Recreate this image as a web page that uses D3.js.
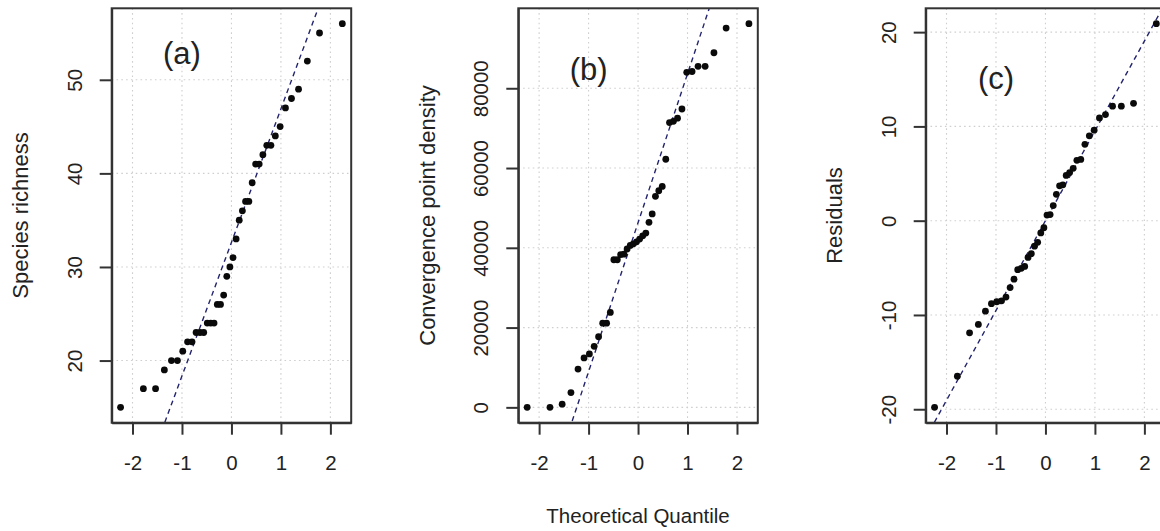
<!DOCTYPE html>
<html><head><meta charset="utf-8">
<script src="https://cdn.jsdelivr.net/npm/d3@7"></script>
<style>
body{margin:0;background:#fff}
svg{display:block}
text{font-family:"Liberation Sans",Arial,sans-serif;fill:#222}
</style>
</head><body>
<svg id="chart" width="1160" height="531"></svg>
<script>
// ---- data (sorted sample values) ----
const speciesRichness = [15,17,17,19,20,20,21,22,22,23,23,23,24,24,24,26,26,27,29,30,31,33,35,36,37,37,39,41,41,42,43,43,44,45,47,48,49,52,55,56];
const convergenceDensity = [0,0,800,3700,9600,12400,13400,15300,17700,21100,21100,23800,37000,37000,38300,38400,39700,40600,41000,41500,42200,43000,43700,46400,48500,52900,54300,55400,62200,71400,71700,72500,74800,84000,84200,85500,85500,88900,95100,96200];
const residuals = [-19.8,-16.5,-11.9,-11.0,-9.6,-8.8,-8.6,-8.5,-8.1,-7.1,-6.2,-5.2,-5.05,-4.85,-3.9,-3.5,-2.7,-2.3,-1.3,-0.75,0.6,0.65,1.6,2.8,3.7,3.8,4.8,5.1,5.55,6.4,6.5,8.1,9.0,9.6,10.9,11.25,12.15,12.15,12.45,20.9];
const xTicks = [-2,-1,0,1,2];
const yTicksA = [20,30,40,50];
const yTicksB = [0,20000,40000,60000,80000];
const yTicksC = [-20,-10,0,10,20];
const panelLabels = ["(a)","(b)","(c)"];
const yTitles = ["Species richness","Convergence point density","Residuals"];
const xTitle = "Theoretical Quantile";
const labelAnchorX = [-1,-1,-1];
const labelAnchorY = [52.6,84000,14.8];

// ---- helpers ----
function qnorm(p){
  const a=[-3.969683028665376e+01,2.209460984245205e+02,-2.759285104469687e+02,1.383577518672690e+02,-3.066479806614716e+01,2.506628277459239e+00];
  const b=[-5.447609879822406e+01,1.615858368580409e+02,-1.556989798598866e+02,6.680131188771972e+01,-1.328068155288572e+01];
  const c=[-7.784894002430293e-03,-3.223964580411365e-01,-2.400758277161838e+00,-2.549732539343734e+00,4.374664141464968e+00,2.938163982698783e+00];
  const d=[7.784695709041462e-03,3.224671290700398e-01,2.445134137142996e+00,3.754408661907416e+00];
  const pl=0.02425, ph=1-pl; let q,r;
  if(p<pl){q=Math.sqrt(-2*Math.log(p));return (((((c[0]*q+c[1])*q+c[2])*q+c[3])*q+c[4])*q+c[5])/((((d[0]*q+d[1])*q+d[2])*q+d[3])*q+1);}
  if(p<=ph){q=p-0.5;r=q*q;return (((((a[0]*r+a[1])*r+a[2])*r+a[3])*r+a[4])*r+a[5])*q/(((((b[0]*r+b[1])*r+b[2])*r+b[3])*r+b[4])*r+1);}
  q=Math.sqrt(-2*Math.log(1-p));return -(((((c[0]*q+c[1])*q+c[2])*q+c[3])*q+c[4])*q+c[5])/((((d[0]*q+d[1])*q+d[2])*q+d[3])*q+1);
}
function pad4(ext){const r=ext[1]-ext[0];return [ext[0]-0.04*r, ext[1]+0.04*r];}

const svg = d3.select("#chart");
const FS = 20.5;
const panelLefts = [111.7, 518.3, 925.7];
const panelW = 239.5, plotTop = 8.3, plotBottom = 422.7;
const datasets = [speciesRichness, convergenceDensity, residuals];
const yTickSets = [yTicksA, yTicksB, yTicksC];

datasets.forEach((vals, k) => {
  const n = vals.length;
  const sorted = vals.slice().sort((a,b)=>a-b);
  const theo = sorted.map((v,i)=>qnorm((i+1-0.5)/n));
  const pts = sorted.map((v,i)=>({q:theo[i], v}));
  const left = panelLefts[k], right = left + panelW;
  const x = d3.scaleLinear().domain(pad4(d3.extent(theo))).range([left, right]);
  const y = d3.scaleLinear().domain(pad4(d3.extent(sorted))).range([plotBottom, plotTop]);
  const g = svg.append("g");
  const clipId = "clip"+k;
  svg.append("clipPath").attr("id", clipId).append("rect")
    .attr("x", left).attr("y", plotTop).attr("width", panelW).attr("height", plotBottom-plotTop);

  // grid
  const grid = g.append("g").attr("stroke","#cfcfcf").attr("stroke-width",1.1).attr("stroke-dasharray","1.6,3.2");
  grid.selectAll(".gx").data(xTicks).join("line").attr("class","gx")
    .attr("x1", d=>x(d)).attr("x2", d=>x(d)).attr("y1", plotTop).attr("y2", plotBottom);
  grid.selectAll(".gy").data(yTickSets[k]).join("line").attr("class","gy")
    .attr("x1", left).attr("x2", right).attr("y1", d=>y(d)).attr("y2", d=>y(d));

  // qq line through quartiles
  const q1 = d3.quantileSorted(sorted, 0.25), q3 = d3.quantileSorted(sorted, 0.75);
  const z1 = qnorm(0.25), z3 = qnorm(0.75);
  const slope = (q3-q1)/(z3-z1), inter = q1 - slope*z1;
  const xd = x.domain();
  g.append("line").attr("clip-path", `url(#${clipId})`)
    .attr("x1", x(xd[0])).attr("y1", y(inter + slope*xd[0]))
    .attr("x2", x(xd[1])).attr("y2", y(inter + slope*xd[1]))
    .attr("stroke","#24246e").attr("stroke-width",1.4).attr("stroke-dasharray","5,4");

  // points
  g.append("g").selectAll("circle").data(pts).join("circle")
    .attr("cx", d=>x(d.q)).attr("cy", d=>y(d.v)).attr("r", 3.4).attr("fill","#0a0a0a");

  // axes
  const ax = g.append("g").attr("transform", `translate(0,${plotBottom})`)
    .call(d3.axisBottom(x).tickValues(xTicks).tickSize(12).tickSizeOuter(0).tickPadding(21).tickFormat(d3.format("d")));
  const ay = g.append("g").attr("transform", `translate(${left},0)`)
    .call(d3.axisLeft(y).tickValues(yTickSets[k]).tickSize(12).tickSizeOuter(0).tickFormat(d3.format("d")));
  [ax, ay].forEach(a => {
    a.select(".domain").attr("stroke","#333").attr("stroke-width",2);
    a.selectAll(".tick line").attr("stroke","#333").attr("stroke-width",2);
    a.selectAll("text").attr("font-size", FS).attr("font-family",'"Liberation Sans",Arial,sans-serif').attr("fill","#222");
  });
  ax.selectAll("text").text(d => d < 0 ? "-" + Math.abs(d) : d);
  ay.selectAll("text").attr("x", null).attr("dy", null)
    .attr("text-anchor","middle").attr("transform","translate(-30,0) rotate(-90)")
    .text(d => d < 0 ? "-" + Math.abs(d) : d);

  // box
  g.append("rect").attr("x", left).attr("y", plotTop).attr("width", panelW).attr("height", plotBottom-plotTop)
    .attr("fill","none").attr("stroke","#333").attr("stroke-width",2);

  // panel label
  g.append("text").attr("x", x(labelAnchorX[k])).attr("y", y(labelAnchorY[k]))
    .attr("dy","0.26em").attr("text-anchor","middle").attr("font-size",31).text(panelLabels[k]);

  // y title
  g.append("text").attr("transform", `translate(${left-83.5},${(plotTop+plotBottom)/2}) rotate(-90)`)
    .attr("text-anchor","middle").attr("font-size",22).text(yTitles[k]);

  if (k === 1) {
    g.append("text").attr("x", (left+right)/2).attr("y", 522.5)
      .attr("text-anchor","middle").attr("font-size",FS).text(xTitle);
  }
});
</script>
</body></html>
